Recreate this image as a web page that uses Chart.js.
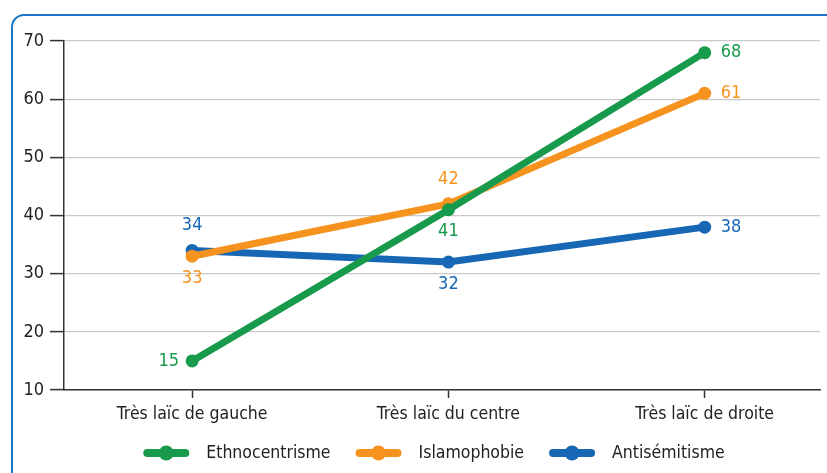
<!DOCTYPE html>
<html>
<head>
<meta charset="utf-8">
<script src="https://cdn.jsdelivr.net/npm/chart.js@4"></script>
<style>
  html, body { margin: 0; padding: 0; background: #fff; }
  #wrap { position: relative; width: 827px; height: 473px; overflow: hidden; }
  #frame { position: absolute; left: 11px; top: 14px; width: 900px; height: 520px;
           border: 2px solid #1a76c6; border-top-left-radius: 13px; box-sizing: border-box; }
  #c { position: absolute; left: 0; top: 0; }
</style>
</head>
<body>
<div id="wrap">
  <div id="frame"></div>
  <canvas id="c" width="827" height="473"></canvas>
</div>
<script>
// Catégories et valeurs
var categories = ['Très laïc de gauche', 'Très laïc du centre', 'Très laïc de droite'];
var ethnocentrisme = [15, 41, 68];
var islamophobie = [33, 42, 61];
var antisemitisme = [34, 32, 38];
var yTicks = [10, 20, 30, 40, 50, 60, 70];

var FONT = "'Liberation Sans Narrow', 'DejaVu Sans Condensed', 'Roboto Condensed', sans-serif";

// Où placer l'étiquette de chaque point
var labelPlace = [
    ['left', 'below', 'right'],
    ['below', 'above', 'right'],
    ['above', 'below', 'right']
];

function toPoints(values) {
    return values.map(function(v, i) { return { x: i, y: v }; });
}

var series = [
    { label: 'Ethnocentrisme', data: ethnocentrisme, color: '#179a4b' },
    { label: 'Islamophobie', data: islamophobie, color: '#f6931f' },
    { label: 'Antisémitisme', data: antisemitisme, color: '#1767b5' }
];

// Étiquettes de valeurs
var valueLabels = {
    id: 'valueLabels',
    afterDatasetsDraw: function(chart) {
        var ctx = chart.ctx;
        ctx.save();
        ctx.font = '18px ' + FONT;
        chart.data.datasets.forEach(function(ds, di) {
            var meta = chart.getDatasetMeta(di);
            meta.data.forEach(function(pt, i) {
                var place = labelPlace[di][i];
                var x = pt.x, y = pt.y;
                ctx.fillStyle = ds.borderColor;
                ctx.textBaseline = 'middle';
                ctx.textAlign = 'center';
                if (place === 'left') { ctx.textAlign = 'right'; x -= 13; }
                if (place === 'right') { ctx.textAlign = 'left'; x += 16; }
                if (place === 'above') { y -= 25; }
                if (place === 'below') { y += 22; }
                ctx.fillText(String(ds.data[i].y), x, y);
            });
        });
        ctx.restore();
    }
};

// Légende dessinée à la main (trait + point)
var lineLegend = {
    id: 'lineLegend',
    afterDraw: function(chart) {
        var ctx = chart.ctx;
        ctx.save();
        ctx.font = '17.5px ' + FONT;
        var symW = 46, gapText = 17, gapItem = 25;
        var items = chart.data.datasets.map(function(ds) {
            return { text: ds.label, color: ds.borderColor, w: ctx.measureText(ds.label).width };
        });
        var total = 0;
        items.forEach(function(it, i) { total += symW + gapText + it.w + (i ? gapItem : 0); });
        var x = 434 - total / 2, y = 453;
        items.forEach(function(it) {
            ctx.strokeStyle = it.color;
            ctx.lineWidth = 8;
            ctx.lineCap = 'round';
            ctx.beginPath();
            ctx.moveTo(x + 4, y);
            ctx.lineTo(x + symW - 4, y);
            ctx.stroke();
            ctx.fillStyle = it.color;
            ctx.beginPath();
            ctx.arc(x + symW / 2, y, 7.5, 0, Math.PI * 2);
            ctx.fill();
            ctx.fillStyle = '#222';
            ctx.textAlign = 'left';
            ctx.textBaseline = 'middle';
            ctx.fillText(it.text, x + symW + gapText, y);
            x += symW + gapText + it.w + gapItem;
        });
        ctx.restore();
    }
};

new Chart(document.getElementById('c'), {
    type: 'line',
    data: {
        datasets: series.map(function(s) {
            return {
                label: s.label,
                data: toPoints(s.data),
                borderColor: s.color,
                backgroundColor: s.color,
                borderWidth: 7,
                pointRadius: 6.5,
                pointHoverRadius: 6.5,
                pointBorderWidth: 0,
                borderCapStyle: 'round',
                tension: 0
            };
        })
    },
    options: {
        responsive: false,
        animation: false,
        layout: { padding: { top: 41, right: 7, bottom: 43, left: 0 } },
        plugins: { legend: { display: false }, tooltip: { enabled: false } },
        scales: {
            x: {
                type: 'linear',
                min: -0.5,
                max: 2.45,
                afterBuildTicks: function(scale) {
                    scale.ticks = categories.map(function(c, i) { return { value: i }; });
                },
                afterFit: function(scale) { scale.height = 40; },
                grid: { drawOnChartArea: false, tickLength: 8, tickColor: '#333', tickWidth: 1.5 },
                border: { color: '#333', width: 1.5 },
                ticks: {
                    autoSkip: false,
                    maxRotation: 0,
                    padding: 6,
                    color: '#222',
                    font: { family: FONT, size: 17.5 },
                    callback: function(v) { return categories[v]; }
                }
            },
            y: {
                min: 10,
                max: 70,
                afterBuildTicks: function(scale) {
                    scale.ticks = yTicks.map(function(v) { return { value: v }; });
                },
                afterFit: function(scale) { scale.width = 64; },
                grid: { color: '#c9c9c9', lineWidth: 1.2, tickLength: 14, tickColor: '#333', tickWidth: 1.5 },
                border: { color: '#333', width: 1.5 },
                ticks: {
                    padding: 6,
                    color: '#222',
                    font: { family: FONT, size: 18 }
                }
            }
        }
    },
    plugins: [valueLabels, lineLegend]
});
</script>
</body>
</html>
